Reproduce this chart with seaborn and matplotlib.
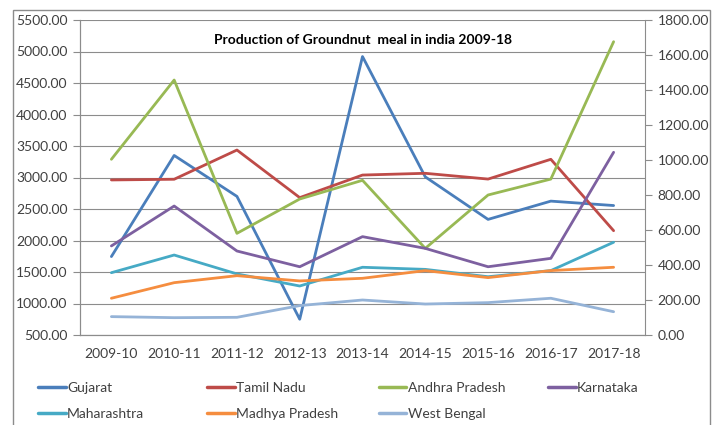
import pandas as pd
import numpy as np
import matplotlib
matplotlib.use("Agg")
import matplotlib.pyplot as plt
import seaborn as sns
from matplotlib.patches import Rectangle

# data
years = ["2009-10", "2010-11", "2011-12", "2012-13", "2013-14",
         "2014-15", "2015-16", "2016-17", "2017-18"]

# left axis
gujarat = [1745, 3350, 2700, 750, 4920, 3010, 2335, 2625, 2555]

# right axis
tamil_nadu = [886, 890, 1057, 785, 914, 924, 891, 1004, 596]
andhra_pradesh = [1004, 1457, 581, 777, 884, 495, 800, 891, 1676]
karnataka = [509, 737, 480, 390, 562, 495, 390, 438, 1044]
maharashtra = [356, 457, 349, 280, 387, 375, 333, 368, 530]
madhya_pradesh = [210, 299, 339, 309, 324, 368, 328, 368, 387]
west_bengal = [105, 99, 101, 168, 200, 177, 185, 210, 133]

left_ticks = np.arange(500, 5501, 500)
right_ticks = np.arange(0, 1801, 200)

colors = {
    "Gujarat": "#4A7EBB",
    "Tamil Nadu": "#BE4B48",
    "Andhra Pradesh": "#98B954",
    "Karnataka": "#7D60A0",
    "Maharashtra": "#46AAC5",
    "Madhya Pradesh": "#F58D3F",
    "West Bengal": "#95B3D7",
}

df_left = pd.DataFrame({"year": years, "value": gujarat, "state": "Gujarat"})
right_series = {
    "Tamil Nadu": tamil_nadu,
    "Andhra Pradesh": andhra_pradesh,
    "Karnataka": karnataka,
    "Maharashtra": maharashtra,
    "Madhya Pradesh": madhya_pradesh,
    "West Bengal": west_bengal,
}
df_right = pd.concat(
    [pd.DataFrame({"year": years, "value": v, "state": k}) for k, v in right_series.items()],
    ignore_index=True,
)

sns.set_style("white")
plt.rcParams["font.family"] = ["Lato", "DejaVu Sans"]

fig = plt.figure(figsize=(7.17, 4.25), dpi=100)
ax = fig.add_axes([80 / 717, 1 - 335 / 425, 565 / 717, 315 / 425])
ax2 = ax.twinx()

lw = 2.0
sns.lineplot(data=df_left, x="year", y="value", hue="state", palette=colors,
             ax=ax, linewidth=lw, sort=False, legend=False)
sns.lineplot(data=df_right, x="year", y="value", hue="state", palette=colors,
             ax=ax2, linewidth=lw, sort=False, legend=False)

gridc = "#8C8C8C"
textc = "#404040"
for a in (ax, ax2):
    a.set_xlim(-0.5, 8.5)
    a.set_xlabel("")
    a.set_ylabel("")
    for s in a.spines.values():
        s.set_color(gridc)
        s.set_linewidth(0.8)
    a.spines["top"].set_visible(False)

ax.set_ylim(500, 5500)
ax.set_yticks(left_ticks)
ax.set_yticklabels([f"{v:.2f}" for v in left_ticks])
ax.grid(axis="y", color=gridc, linewidth=0.8)
ax.set_axisbelow(True)
ax.spines["right"].set_visible(False)

ax2.set_ylim(0, 1800)
ax2.set_yticks(right_ticks)
ax2.set_yticklabels([f"{v:.2f}" for v in right_ticks])
ax2.grid(False)

ax.set_xticks(range(len(years)))
ax.set_xticklabels(years)
ax.set_xticks(np.arange(-0.5, 9, 1), minor=True)
ax.tick_params(axis="x", which="major", length=0, pad=9, labelsize=10)
ax.tick_params(axis="x", which="minor", length=5, color=gridc, direction="out")
ax.tick_params(axis="y", length=5, color=gridc, labelsize=10, pad=4)
ax2.tick_params(axis="y", length=5, color=gridc, labelsize=10, pad=4)
for lbl in ax.get_xticklabels() + ax.get_yticklabels() + ax2.get_yticklabels():
    lbl.set_color(textc)

ax.text(0.5, 0.955, "Production of Groundnut  meal in india 2009-18", transform=ax.transAxes,
        ha="center", va="top", fontsize=10, fontweight="bold", color="black")

# legend: one column per legend so entries sit where the reference has them
legend_cols = [["Gujarat", "Maharashtra"], ["Tamil Nadu", "Madhya Pradesh"],
               ["Andhra Pradesh", "West Bengal"], ["Karnataka"]]
col_x = [28, 197, 369, 538]
for names, x in zip(legend_cols, col_x):
    handles = [plt.Line2D([], [], color=colors[n], linewidth=2.5) for n in names]
    leg = fig.legend(handles, names, loc="upper left", bbox_to_anchor=(x / 717, 1 - 372 / 425),
                     ncol=1, frameon=False, fontsize=10, handlelength=2.0, handletextpad=0.1,
                     labelspacing=1.05, borderpad=0.2, labelcolor=textc)

# outer chart border
fig.patches.append(Rectangle((13 / 717, -0.05), (710 - 13) / 717, 1 - 10 / 425 + 0.05,
                             transform=fig.transFigure, fill=False,
                             edgecolor="#8C8C8C", linewidth=1.0))

fig.savefig("out.png", dpi=100)
